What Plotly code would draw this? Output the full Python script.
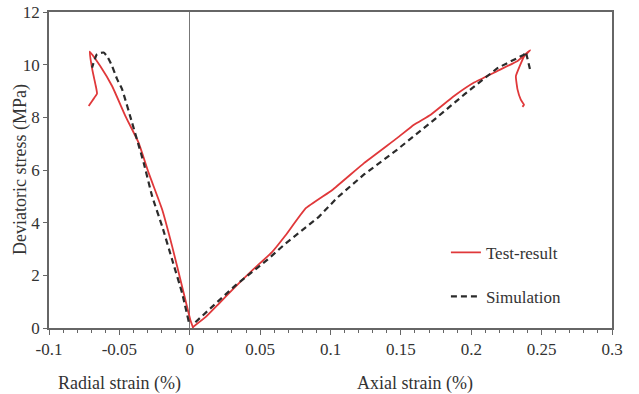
import plotly.graph_objects as go

# Test result - radial branch (loading from origin to peak, then post-peak tail)
test_radial_strain = [0.0024, 0.0005, -0.0054, -0.0125, -0.0196, -0.0292, -0.0363, -0.0457,
                      -0.0552, -0.0635, -0.0711, -0.0692, -0.0668, -0.0659, -0.0690, -0.0718]
test_radial_stress = [0.00, 0.29, 1.57, 3.10, 4.50, 5.89, 7.03, 8.05,
                      9.19, 9.94, 10.50, 9.80, 9.20, 8.90, 8.65, 8.43]

# Test result - axial branch
test_axial_strain = [0.0021, 0.0112, 0.0206, 0.0325, 0.0444, 0.0586, 0.0681, 0.0823, 0.1013,
                     0.1238, 0.1475, 0.1593, 0.1712, 0.1878, 0.2020, 0.2186, 0.2329, 0.2418,
                     0.2375, 0.2317, 0.2329, 0.2352, 0.2375, 0.2364]
test_axial_stress = [0.03, 0.41, 0.92, 1.57, 2.19, 2.89, 3.52, 4.54, 5.24,
                     6.26, 7.22, 7.72, 8.10, 8.81, 9.32, 9.76, 10.14, 10.55,
                     10.31, 9.56, 9.05, 8.67, 8.48, 8.40]

# Simulation - radial branch
sim_radial_strain = [-0.0007, -0.0054, -0.0125, -0.0196, -0.0267, -0.0327, -0.0410, -0.0481,
                     -0.0516, -0.0552, -0.0585, -0.0612, -0.0659, -0.0694]
sim_radial_stress = [0.24, 1.32, 2.59, 3.86, 5.00, 6.27, 7.80, 9.07,
                     9.45, 9.95, 10.30, 10.46, 10.40, 9.89]

# Simulation - axial branch
sim_axial_strain = [0.0040, 0.0206, 0.0325, 0.0444, 0.0562, 0.0681, 0.0800, 0.0917, 0.1048,
                    0.1238, 0.1475, 0.1712, 0.1949, 0.2186, 0.2375, 0.2388, 0.2418]
sim_axial_stress = [0.22, 1.05, 1.62, 2.13, 2.64, 3.21, 3.71, 4.22, 4.95,
                    5.83, 6.78, 7.80, 8.86, 9.87, 10.38, 10.49, 9.81]

x_tickvals = [-0.1, -0.05, 0, 0.05, 0.1, 0.15, 0.2, 0.25, 0.3]
x_ticktext = ["-0.1", "-0.05", "0", "0.05", "0.1", "0.15", "0.2", "0.25", "0.3"]
y_tickvals = [0, 2, 4, 6, 8, 10, 12]

RED = "#e0383a"
BLACK = "#2b2b2b"
AX = "#666666"
TXT = "#333333"
FONT = "Liberation Serif"

fig = go.Figure()
fig.add_trace(go.Scatter(x=test_radial_strain, y=test_radial_stress, mode="lines",
                         name="Test-result", legendgroup="test", showlegend=True,
                         line=dict(color=RED, width=1.8, shape="spline", smoothing=0.4)))
fig.add_trace(go.Scatter(x=test_axial_strain, y=test_axial_stress, mode="lines",
                         name="Test-result", legendgroup="test", showlegend=False,
                         line=dict(color=RED, width=1.8, shape="spline", smoothing=0.3)))
fig.add_trace(go.Scatter(x=sim_radial_strain, y=sim_radial_stress, mode="lines",
                         name="Simulation", legendgroup="sim", showlegend=True,
                         line=dict(color=BLACK, width=2.2, dash="6px,4px",
                                   shape="spline", smoothing=0.4)))
fig.add_trace(go.Scatter(x=sim_axial_strain, y=sim_axial_stress, mode="lines",
                         name="Simulation", legendgroup="sim", showlegend=False,
                         line=dict(color=BLACK, width=2.2, dash="6px,4px")))

fig.update_layout(
    width=639, height=394,
    margin=dict(l=49, r=27, t=12, b=66),
    paper_bgcolor="white", plot_bgcolor="white",
    font=dict(family=FONT, size=17, color=TXT),
    showlegend=True,
    legend=dict(x=0.705, y=0.295, xanchor="left", yanchor="top",
                bgcolor="rgba(0,0,0,0)", font=dict(family=FONT, size=17, color=TXT),
                traceorder="grouped", tracegroupgap=19),
    xaxis=dict(range=[-0.1, 0.3], tickmode="array", tickvals=x_tickvals, ticktext=x_ticktext,
               automargin=False,
               showgrid=False, zeroline=True, zerolinecolor="#777777", zerolinewidth=1,
               showline=True, linecolor=AX, linewidth=1.5, mirror=True,
               ticks="outside", ticklen=5, tickcolor=AX, tickwidth=1.2,
               minor=dict(tickmode="linear", tick0=0, dtick=0.01, ticks="outside",
                          ticklen=3, tickcolor=AX, tickwidth=1),
               tickfont=dict(family=FONT, size=17, color=TXT)),
    yaxis=dict(range=[0, 12], tickmode="array", tickvals=y_tickvals,
               automargin=False,
               showgrid=False, zeroline=False,
               showline=True, linecolor=AX, linewidth=1.5, mirror=True,
               ticks="outside", ticklen=4, tickcolor=AX, tickwidth=1.2,
               tickfont=dict(family=FONT, size=17, color=TXT)),
    annotations=[
        dict(text="Deviatoric stress (MPa)", x=-0.0515, xref="paper", y=0.5, yref="paper",
             textangle=-90, showarrow=False, xanchor="center", yanchor="middle",
             font=dict(family=FONT, size=18, color=TXT)),
        dict(text="Radial strain (%)", x=-0.05, xref="x", y=-0.176, yref="paper",
             showarrow=False, xanchor="center", yanchor="middle",
             font=dict(family=FONT, size=18, color=TXT)),
        dict(text="Axial strain (%)", x=0.16, xref="x", y=-0.176, yref="paper",
             showarrow=False, xanchor="center", yanchor="middle",
             font=dict(family=FONT, size=18, color=TXT)),
    ],
)

fig.write_html("out.html", config={"displayModeBar": False},
               post_script="document.body.style.margin='0';")
